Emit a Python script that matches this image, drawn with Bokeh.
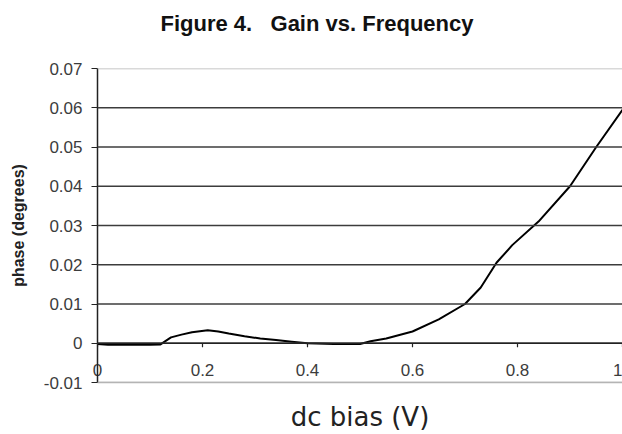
from bokeh.plotting import figure
from bokeh.models import Range1d, LinearAxis, FixedTicker, Span
from bokeh.embed import file_html
from bokeh.resources import INLINE

# data
bias = [0.0, 0.02, 0.06, 0.10, 0.12, 0.14, 0.16, 0.18, 0.21, 0.23, 0.25, 0.28,
        0.31, 0.34, 0.37, 0.40, 0.45, 0.50, 0.52, 0.55, 0.60, 0.65, 0.70, 0.73,
        0.76, 0.79, 0.84, 0.90, 0.95, 1.0]
phase = [-0.0002, -0.0004, -0.0004, -0.0004, -0.0003, 0.0015, 0.0022, 0.0028,
         0.0033, 0.0030, 0.0025, 0.0018, 0.0012, 0.0008, 0.0004, 0.0000,
         -0.0002, -0.0002, 0.0005, 0.0012, 0.0030, 0.0061, 0.0100, 0.0142,
         0.0205, 0.0250, 0.0310, 0.0400, 0.0500, 0.0595]

x_ticks = [0.0, 0.2, 0.4, 0.6, 0.8, 1.0]
x_tick_labels = ["0", "0.2", "0.4", "0.6", "0.8", "1"]
y_ticks = [-0.01, 0.0, 0.01, 0.02, 0.03, 0.04, 0.05, 0.06, 0.07]
y_tick_labels = ["-0.01", "0", "0.01", "0.02", "0.03", "0.04", "0.05", "0.06", "0.07"]

title_text = "Figure 4.\u00a0\u00a0 Gain vs. Frequency"
x_label = "dc bias (V)"
y_label = "phase (degrees)"

FONT = "Liberation Sans"
TICK_LEN = 0.001  # length of the tick marks below the zero line, in data units

p = figure(width=622, height=434,
           x_range=Range1d(0, 1.0), y_range=Range1d(-0.01, 0.07),
           output_backend="svg", toolbar_location=None,
           x_axis_location=None, y_axis_location=None,
           min_border_left=97, min_border_right=0,
           min_border_top=68, min_border_bottom=50)
p.outline_line_color = None
p.background_fill_color = "white"
p.border_fill_color = "white"
p.xgrid.grid_line_color = None
p.ygrid.grid_line_color = None

# title (a blank second line lifts it towards the top of the page)
p.title.text = title_text + "\n"
p.title.text_font = FONT
p.title.text_font_size = "22px"
p.title.text_font_style = "bold"
p.title.text_color = "#111111"
p.title.align = "left"
p.title.offset = 63
p.title.standoff = 16

# horizontal grid lines
for i, t in enumerate(y_ticks):
    edge = (i == 0) or (i == len(y_ticks) - 1)
    p.add_layout(Span(location=t, dimension="width",
                      line_color="#b4b4b4" if edge else "#3c3c3c",
                      line_width=1.5))

yaxis = LinearAxis(ticker=FixedTicker(ticks=y_ticks),
                   major_label_overrides={t: s for t, s in zip(y_ticks, y_tick_labels)},
                   axis_label=y_label)
yaxis.axis_line_color = "#222222"
yaxis.axis_line_width = 1.5
yaxis.major_tick_in = 0
yaxis.major_tick_out = 6
yaxis.major_tick_line_color = "#222222"
yaxis.minor_tick_line_color = None
yaxis.major_label_text_font = FONT
yaxis.major_label_text_font_size = "17px"
yaxis.major_label_text_color = "#3c3c3c"
yaxis.major_label_standoff = 9
yaxis.axis_label_text_font = FONT
yaxis.axis_label_text_font_style = "bold"
yaxis.axis_label_text_font_size = "16px"
yaxis.axis_label_text_color = "#222222"
yaxis.axis_label_standoff = 14
p.add_layout(yaxis, "left")

# x axis at the bottom of the frame: carries tick labels (pulled up) and title
xaxis = LinearAxis(ticker=FixedTicker(ticks=x_ticks),
                   major_label_overrides={t: s for t, s in zip(x_ticks, x_tick_labels)},
                   axis_label=x_label)
xaxis.axis_line_color = "#b4b4b4"
xaxis.axis_line_width = 1.5
xaxis.major_tick_in = 0
xaxis.major_tick_out = 0
xaxis.minor_tick_line_color = None
xaxis.major_label_text_font = FONT
xaxis.major_label_text_font_size = "17px"
xaxis.major_label_text_color = "#3c3c3c"
xaxis.major_label_standoff = -19
xaxis.axis_label_text_font = "DejaVu Sans"
xaxis.axis_label_text_font_size = "26px"
xaxis.axis_label_text_font_style = "normal"
xaxis.axis_label_text_color = "#222222"
xaxis.axis_label_standoff = 23
p.add_layout(xaxis, "below")

# x-axis line at zero with small downward tick marks
p.add_layout(Span(location=0, dimension="width", line_color="#222222", line_width=1.5))
p.segment(x0=x_ticks, y0=[0] * len(x_ticks), x1=x_ticks,
          y1=[-TICK_LEN] * len(x_ticks), line_color="#222222", line_width=1.2)

p.line(bias, phase, line_color="black", line_width=2)

open("out.html", "w").write(file_html(p, INLINE))
